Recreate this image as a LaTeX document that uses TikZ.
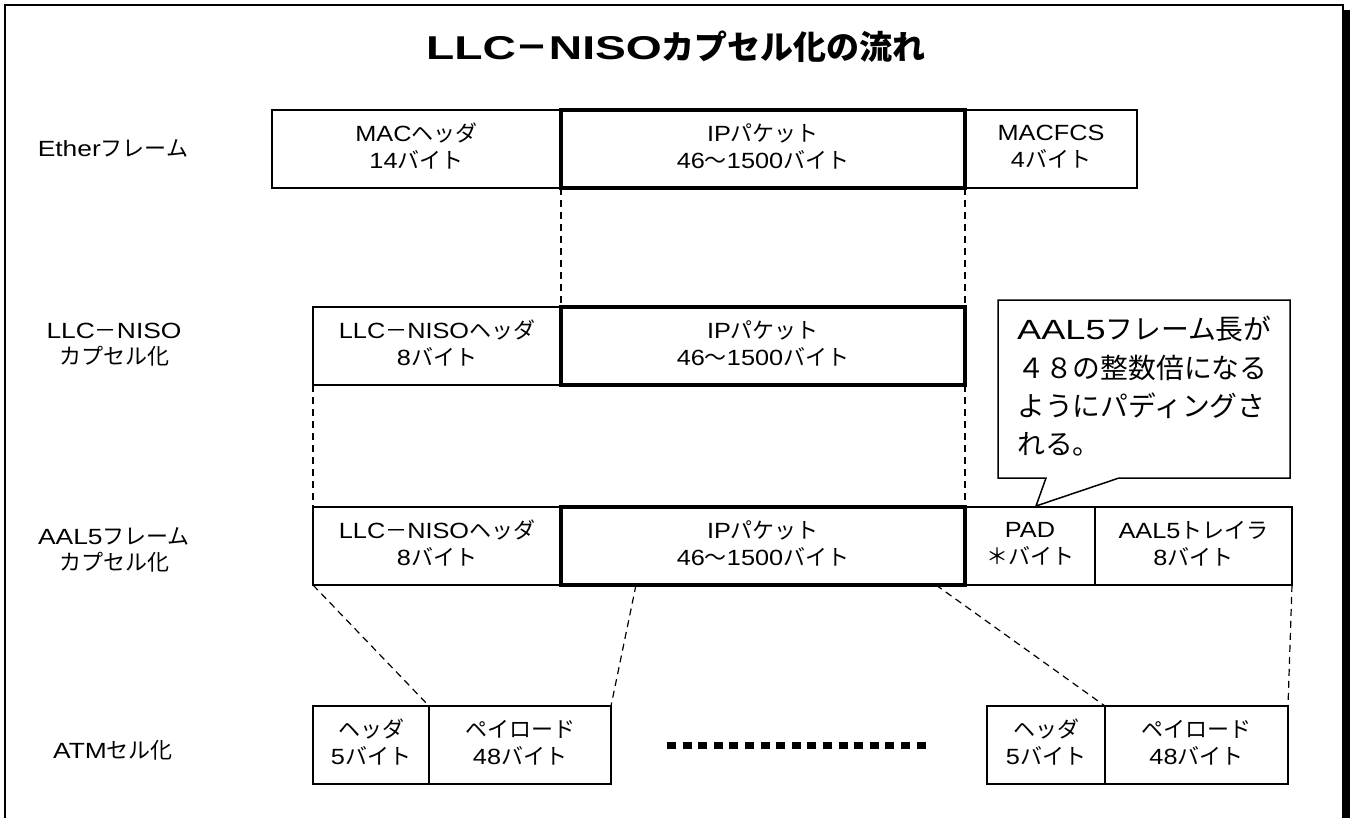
\documentclass[tikz,border=0pt]{standalone}
\usepackage{fontspec}
\setmainfont{Noto Sans CJK JP}
\newfontfamily\latC[FakeStretch=1.15]{Liberation Sans}
\newfontfamily\latL[FakeStretch=1.2]{Liberation Sans}
\newfontfamily\latN[FakeStretch=1.3]{Liberation Sans}
\newfontfamily\latT[FakeStretch=1.4]{Liberation Sans}
\newcommand\LC[1]{{\latC #1}}
\newcommand\LL[1]{{\latL #1}}
\newcommand\LN[1]{{\latN #1}}
\newcommand\LT[1]{{\latT\bfseries #1}}
\begin{document}
\begin{tikzpicture}[x=1pt,y=-1pt,
  cell/.style={draw, line width=1.5pt, inner sep=0pt, outer sep=0pt, anchor=north west,
    minimum height=78pt, align=center, text depth=6pt, font=\fontsize{22}{27}\selectfont},
  ipcell/.style={cell, line width=3.2pt},
  conn/.style={line width=1.2pt, dash pattern=on 7pt off 5pt},
  lbl/.style={align=center, inner sep=0pt, font=\fontsize{22}{26}\selectfont},
  dotrow/.style={line width=7pt, dash pattern=on 9pt off 6.6pt}]
\useasboundingbox (0,0) rectangle (1351,818);
% frame with shadow
\draw[line width=1.5pt] (5,818) -- (5,5) -- (1343,5) -- (1343,818);
\fill (1343,10) rectangle (1350,818);
% title
\node[inner sep=0pt, font=\fontsize{33}{38}\selectfont\bfseries] (title) at (676,47)
  {\LT{LLC}－\LT{NISO}カプセル化の流れ};
% row labels
\node[lbl] (l1) at (113,148) {\LL{Ether}フレーム};
\node[lbl] (l2) at (114,345) {\LL{LLC}－\LL{NISO}\\カプセル化};
\node[lbl] (l3) at (114,550) {\LL{AAL5}フレーム\\カプセル化};
\node[lbl] (l4) at (113,750) {\LL{ATM}セル化};
% Ether row
\node[cell, minimum width=289pt] (mac) at (272,110) {\LC{MAC}ヘッダ\\\LC{14}バイト};
\node[cell, minimum width=172pt] (fcs) at (965,110) {\LC{MACFCS}\\\LC{4}バイト};
\node[ipcell, minimum width=404pt] (ip1) at (561,110) {\LC{IP}パケット\\\LC{46}～\LC{1500}バイト};
% LLC row
\node[cell, minimum width=248pt] (llc2) at (313,307) {\LC{LLC}－\LC{NISO}ヘッダ\\\LC{8}バイト};
\node[ipcell, minimum width=404pt] (ip2) at (561,307) {\LC{IP}パケット\\\LC{46}～\LC{1500}バイト};
% AAL5 row
\node[cell, minimum width=248pt] (llc3) at (313,507) {\LC{LLC}－\LC{NISO}ヘッダ\\\LC{8}バイト};
\node[cell, minimum width=130pt] (pad) at (965,507) {\LC{PAD}\\＊バイト};
\node[cell, minimum width=197pt] (trl) at (1095,507) {\LC{AAL5}トレイラ\\\LC{8}バイト};
\node[ipcell, minimum width=404pt] (ip3) at (561,507) {\LC{IP}パケット\\\LC{46}～\LC{1500}バイト};
% ATM row
\node[cell, minimum width=116pt] (h1) at (313,706) {ヘッダ\\\LC{5}バイト};
\node[cell, minimum width=182pt] (p1) at (429,706) {ペイロード\\\LC{48}バイト};
\node[cell, minimum width=118pt] (h2) at (987,706) {ヘッダ\\\LC{5}バイト};
\node[cell, minimum width=183pt] (p2) at (1105,706) {ペイロード\\\LC{48}バイト};
% connectors
\draw[conn] (ip1.south west) -- (ip2.north west);
\draw[conn] (ip1.south east) -- (ip2.north east);
\draw[conn] (llc2.south west) -- (llc3.north west);
\draw[conn] (ip2.south east) -- (ip3.north east);
\draw[conn] (llc3.south west) -- (h1.north east);
\coordinate (c1) at (636,585);
\coordinate (c2) at (936,585);
\draw[conn] (c1) -- (p1.north east);
\draw[conn] (c2) -- (h2.north east);
\draw[conn] (trl.south east) -- (p2.north east);
% ellipsis
\coordinate (d1) at (667,745);
\coordinate (d2) at (928,745);
\draw[dotrow] (d1) -- (d2);
% callout
\draw[line width=1.5pt, fill=white] (998,300) -- (1290,300) -- (1290,478) -- (1119,478)
  -- (1036,506) -- (1046,478) -- (998,478) -- cycle;
\node[anchor=north west, align=left, inner sep=0pt, font=\fontsize{27.8}{38.3}\selectfont] (note) at (1017,316)
  {\LN{AAL5}フレーム長が\\４８の整数倍になる\\ようにパディングさ\\れる。};
\end{tikzpicture}
\end{document}
